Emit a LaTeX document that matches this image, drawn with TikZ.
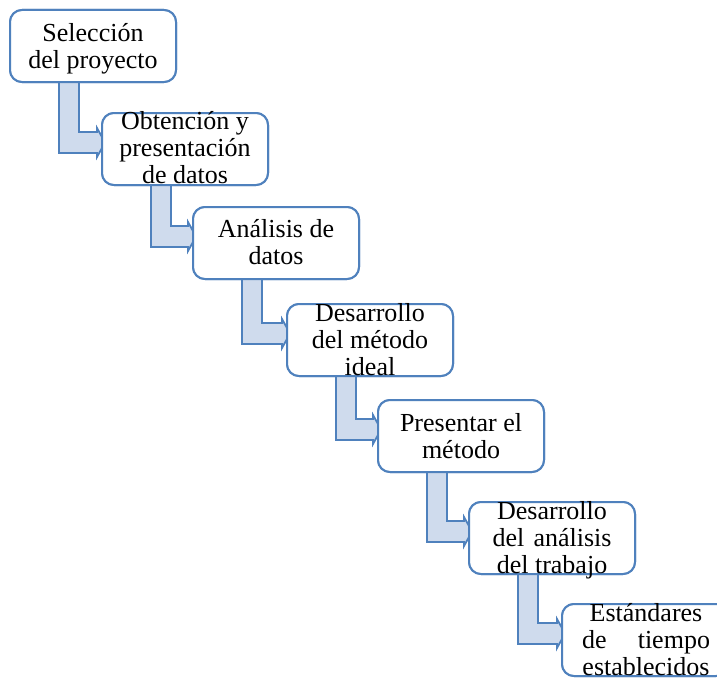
\documentclass[tikz,border=0pt]{standalone}
\usepackage{fontspec}
\setmainfont{Liberation Serif}
\usetikzlibrary{calc}
\definecolor{bord}{HTML}{4F81BD}
\definecolor{arrfill}{HTML}{CFDBED}
\tikzset{
  box/.style={draw=bord, line width=2pt, fill=white, rounded corners=12pt,
    minimum width=166pt, minimum height=72pt, inner sep=0pt, outer sep=0pt, anchor=north west},
  txt/.style={inner sep=0pt, outer sep=0pt, anchor=north, align=center,
    font=\fontsize{26}{27}\selectfont},
  bentarrow/.style={draw=bord, line width=1.8pt, fill=arrfill, line join=miter}
}
\newcommand{\fl}{\rule{0pt}{20pt}}
\begin{document}
\begin{tikzpicture}[x=1pt,y=-1pt]
\useasboundingbox (0,0) rectangle (717,677);
\clip (0,0) rectangle (717,677);
\node[box] (b1) at (10,10) {};
\node[box] (b2) at (102,113) {};
\node[box] (b3) at (193,207) {};
\node[box] (b4) at (287,304) {};
\node[box] (b5) at (378,400) {};
\node[box] (b6) at (469,502) {};
\node[box] (b7) at (562,604) {};
\begin{scope}[on background layer/.try]
\end{scope}
\foreach \i/\j in {1/2,2/3,3/4,4/5,5/6,6/7}{
  \draw[bentarrow] ($(b\i.south west)+(49,-2)$) |- ($(b\j.north west)+(-5,40)$)
    -- ++(0,4) -- ($(b\j.north west)+(3,29.5)$) -- ($(b\j.north west)+(-5,15)$)
    -- ++(0,4) -| ($(b\i.south west)+(69,-2)$) -- cycle;
}
\foreach \i in {1,...,7}{
  \node[box] at (b\i.north west) {};
}
\node[txt] (t1) at ($(b1.north)+(0,11)$) {\fl Selección\\del proyecto};
\node[txt] (t2) at ($(b2.north)+(0,-4)$) {\fl Obtención y\\presentación\\de datos};
\node[txt] (t3) at ($(b3.north)+(0,10)$) {\fl Análisis de\\datos};
\node[txt] (t4) at ($(b4.north)+(0,-3)$) {\fl Desarrollo\\del método\\ideal};
\node[txt] (t5) at ($(b5.north)+(0,11)$) {\fl Presentar el\\método};
\node[txt] (t6) at ($(b6.north)+(0,-3)$) {\fl Desarrollo\\\makebox[119pt]{del\hfill análisis}\\del trabajo};
\node[txt] (t7) at ($(b7.north)+(1,-3)$) {\fl Estándares\\\makebox[128pt]{de\hfill tiempo}\\establecidos};
\end{tikzpicture}
\end{document}
